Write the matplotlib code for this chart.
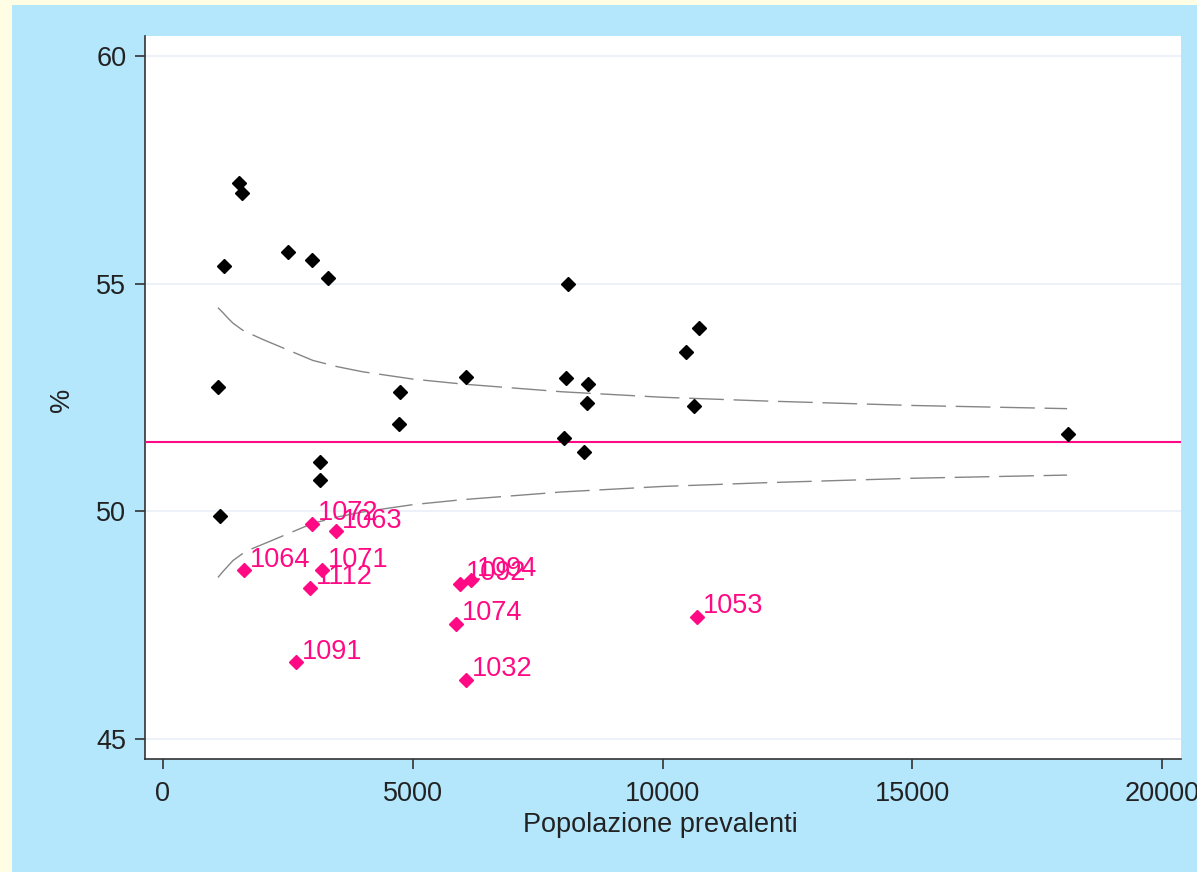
import matplotlib
matplotlib.use("Agg")
import matplotlib.pyplot as plt
from matplotlib.patches import Rectangle

# Units inside the control limits
in_pop = [1522, 1582, 1221, 2503, 2983, 3303, 1101, 1141, 3143, 3143, 4745, 4725,
          6066, 8108, 8068, 8508, 8488, 8028, 8428, 10470, 10731, 10631, 18118]
in_pct = [57.22, 57.00, 55.40, 55.71, 55.53, 55.14, 52.74, 49.90, 51.09, 50.70, 52.63, 51.93,
          52.96, 55.00, 52.94, 52.81, 52.39, 51.62, 51.31, 53.51, 54.03, 52.32, 51.71]

# Units below the lower limit, labelled by code
out_code = ["1072", "1063", "1064", "1071", "1112", "1091", "1092", "1094", "1074", "1032", "1053"]
out_pop = [2983, 3463, 1622, 3183, 2943, 2663, 5946, 6166, 5866, 6066, 10691]
out_pct = [49.73, 49.57, 48.71, 48.71, 48.32, 46.69, 48.41, 48.50, 47.53, 46.30, 47.69]

# Overall mean and funnel limits
mean_pct = 51.53
limit_pop = [1100, 1200, 1300, 1400, 1600, 1800, 2000, 2500, 3000, 3500, 4000, 5000, 6000,
             8000, 10000, 12000, 15000, 18100]
upper_pct = [54.48, 54.37, 54.25, 54.14, 53.98, 53.88, 53.78, 53.55, 53.32, 53.18, 53.07,
             52.91, 52.80, 52.63, 52.51, 52.43, 52.33, 52.26]
lower_pct = [48.55, 48.68, 48.80, 48.92, 49.08, 49.19, 49.28, 49.51, 49.74, 49.88, 49.99,
             50.15, 50.26, 50.43, 50.55, 50.63, 50.73, 50.80]

x_ticks = [0, 5000, 10000, 15000, 20000]
y_ticks = [45, 50, 55, 60]

PINK = "#ff0a84"
TEXT = "#222222"
plt.rcParams["font.family"] = ["Liberation Sans", "DejaVu Sans"]
plt.rcParams["lines.scale_dashes"] = False

W, H = 1197, 872
fig = plt.figure(figsize=(W / 100, H / 100), dpi=100)
fig.patch.set_facecolor("#fffde4")
band = Rectangle((12 / W, 0), 1 - 12 / W, 1 - 5 / H, transform=fig.transFigure,
                 facecolor="#b4e6fc", edgecolor="none")
band.set_zorder(-10)
fig.add_artist(band)

ax = fig.add_axes([145 / W, 1 - 759 / H, (1181 - 145) / W, (759 - 36) / H])
ax.set_zorder(5)
ax.set_facecolor("white")
ax.set_xlim(-360, 20380)
ax.set_ylim(44.56, 60.45)

for y in y_ticks:
    ax.axhline(y, color="#eaf0f7", lw=1.2, zorder=1)

ax.plot(limit_pop, upper_pct, color="#858585", lw=1.0, dashes=(25, 7), zorder=2)
ax.plot(limit_pop, lower_pct, color="#858585", lw=1.0, dashes=(25, 7), zorder=2)
ax.axhline(mean_pct, color=PINK, lw=1.5, zorder=3)

ax.plot(in_pop, in_pct, "D", color="black", ms=7, mec="black", zorder=4)
ax.plot(out_pop, out_pct, "D", color=PINK, ms=7, mec=PINK, zorder=4)
for code, x, y in zip(out_code, out_pop, out_pct):
    ax.annotate(code, (x, y), xytext=(4.5, 2.5), textcoords="offset points",
                ha="left", va="baseline", color=PINK, fontsize=19.5, zorder=5)

for side in ("top", "right"):
    ax.spines[side].set_visible(False)
for side in ("left", "bottom"):
    ax.spines[side].set_color("#333333")
    ax.spines[side].set_linewidth(1.2)

ax.set_xticks(x_ticks)
ax.set_yticks(y_ticks)
ax.tick_params(axis="both", colors="#333333", labelcolor=TEXT, labelsize=19.5,
               length=7.5, width=1.2)
ax.tick_params(axis="x", pad=8)
ax.tick_params(axis="y", pad=6)

ax.set_xlabel("Popolazione prevalenti", fontsize=19.5, color=TEXT, va="center")
ax.set_ylabel("%", fontsize=19.5, color=TEXT, va="center")
ax.xaxis.set_label_coords((660 - 145) / 1036, (759 - 825) / 723)
ax.yaxis.set_label_coords((62 - 145) / 1036, (759 - 400) / 723)

fig.savefig("out.png", dpi=100, facecolor=fig.get_facecolor())
